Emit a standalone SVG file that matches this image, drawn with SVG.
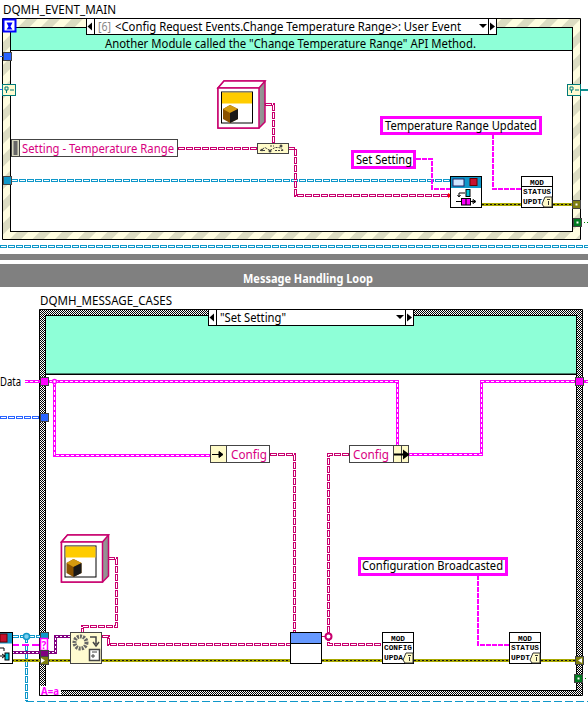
<svg xmlns="http://www.w3.org/2000/svg" width="588" height="702" viewBox="0 0 588 702">
<style>
text{font-family:"Noto Sans","Open Sans","Liberation Sans",sans-serif;font-size:12px;fill:#000}
.frame{stroke:#000;stroke-width:1}
.box{fill:#fff;stroke:#000;stroke-width:1}
.band{fill:#8effd7;stroke:#000;stroke-width:1}
.w{fill:none;shape-rendering:crispEdges}
.w3{stroke-width:3;stroke-dasharray:7 1}
.w1{stroke-width:1}
.h{stroke:#fff;stroke-width:1;stroke-dasharray:5 3;stroke-dashoffset:-1}
.cp{stroke:#c8006e}
.ct{stroke:#0f97c9}
.cb{stroke:#2a64ff}
.pw{stroke:#ff00ff;stroke-width:3}
.pi{stroke:#fff;stroke-width:1;stroke-dasharray:3 2}
.pt{stroke:#ff00ff;stroke-width:2;stroke-dasharray:5 1}
.yo{stroke:#a8a800;stroke-width:3}
.yi{stroke:#111;stroke-width:1;stroke-dasharray:2 2}
.lab{fill:#fff;stroke:#ff00ff;stroke-width:3}
.cl{fill:#d8007f}
.m{font-family:"Liberation Mono",monospace;font-size:8px;font-weight:bold}
.term{stroke:#444;stroke-width:1}
</style>
<defs>
<pattern id="stripe" width="16" height="16" patternUnits="userSpaceOnUse" patternTransform="rotate(-45)">
<rect width="16" height="16" fill="#fffde0"/><rect width="16" height="8" fill="#dcdcc2"/>
</pattern>
<pattern id="check" width="2" height="2" patternUnits="userSpaceOnUse">
<rect width="2" height="2" fill="#fff"/><rect width="1" height="1" fill="#000"/><rect x="1" y="1" width="1" height="1" fill="#000"/>
</pattern>
<linearGradient id="side" x1="0" x2="1" y1="0" y2="0"><stop offset="0" stop-color="#f4f4f4"/><stop offset="1" stop-color="#8c8c8c"/></linearGradient>
<g id="classIcon">
<path d="M0 0L6 -7H47V34L41 40H0Z" fill="url(#side)" stroke="#c8006e" stroke-width="1.5"/>
<path d="M0 0L6 -7H47L41 0Z" fill="#fff" stroke="#c8006e" stroke-width="1.5"/>
<rect x="0" y="0" width="41" height="40" fill="#fff" stroke="#c8006e" stroke-width="1.5"/>
<rect x="3.500" y="4" width="31" height="31" fill="#fff" stroke="#000"/>
<rect x="4" y="4.500" width="30" height="11" fill="#ffcc00"/>
<path d="M5 21L12 17L20 21V31L12 35L5 31Z" fill="#8a5200"/>
<path d="M5 21L12 17L20 21L12 25Z" fill="#d49a10"/>
<path d="M12 25L20 21V31L12 35Z" fill="#181818"/>
</g>
<g id="modIcon">
<rect x="0.500" y="0.500" width="31" height="31" class="box"/>
<path d="M1 10.500H31" stroke="#000"/>
<text class="m" x="9" y="8.500" textLength="14" lengthAdjust="spacingAndGlyphs">MOD</text>
<path d="M21 28L24 21H31V31H23Z" fill="#fffbc8" stroke="#333"/>
<path d="M26 23.500h3M27.500 25v4" stroke="#333"/>
</g>
</defs>
<rect width="588" height="702" fill="#fff"/>

<g id="background-bars">
<rect x="0" y="254" width="588" height="6" fill="#808080"/>
<rect x="0" y="264" width="588" height="23" fill="#808080"/>
<text x="243" y="283" font-weight="bold" style="fill:#fff" textLength="130" lengthAdjust="spacingAndGlyphs">Message Handling Loop</text>
</g>

<g id="event-structure">
<text x="3" y="14" textLength="113" lengthAdjust="spacingAndGlyphs">DQMH_EVENT_MAIN</text>
<path class="frame" d="M2.500 18.500H580.500V239.500H2.500ZM10.500 27.500V231.500H572.500V27.500Z" fill="url(#stripe)" fill-rule="evenodd"/>
<rect x="10.500" y="27.500" width="562" height="23" class="band"/>
<rect x="10.500" y="50.500" width="562" height="181" fill="#fff" stroke="#000"/>
<rect x="86.500" y="18.500" width="410" height="16" class="box"/>
<path d="M94.500 18.500V34.500M488.500 18.500V34.500" stroke="#000"/>
<path d="M92 22.500V30.500L87.500 26.500Z" fill="#000"/>
<path d="M490 22.500V30.500L495 26.500Z" fill="#000"/>
<path d="M479 24H487L483 28Z" fill="#000"/>
<text x="98" y="31" style="fill:#888" textLength="13" lengthAdjust="spacingAndGlyphs">[6]</text>
<text x="115" y="31" textLength="346" lengthAdjust="spacingAndGlyphs">&lt;Config Request Events.Change Temperature Range&gt;: User Event</text>
<text x="105" y="47.500" textLength="371" lengthAdjust="spacingAndGlyphs">Another Module called the "Change Temperature Range" API Method.</text>
<rect x="3.500" y="19.500" width="12" height="12" fill="#fff" stroke="#0000ff" stroke-width="2"/>
<path d="M6.500 22.500h6l-2 4 2 3h-6l2 -3z" fill="#0000ff"/>
</g>

<g id="case-structure">
<text x="40" y="305" textLength="132" lengthAdjust="spacingAndGlyphs">DQMH_MESSAGE_CASES</text>
<path class="frame" d="M39.500 309.500H582.500V695.500H39.500ZM45.500 315.500V690.500H576.500V315.500Z" fill="url(#check)" fill-rule="evenodd"/>
<rect x="45.500" y="315.500" width="531" height="58.500" class="band"/>
<rect x="45.500" y="374.500" width="531" height="316" fill="#fff" stroke="#000"/>
<rect x="208.500" y="309.500" width="205" height="16" class="box"/>
<path d="M216.500 309.500V325.500M405.500 309.500V325.500" stroke="#000"/>
<path d="M214 313.500V321.500L209.500 317.500Z" fill="#000"/>
<path d="M407 313.500V321.500L412 317.500Z" fill="#000"/>
<path d="M396 315H404L400 319Z" fill="#000"/>
<text x="220" y="322" textLength="66" lengthAdjust="spacingAndGlyphs">"Set Setting"</text>
<rect x="40" y="686" width="21" height="9" fill="#fff"/>
<text x="41" y="694.500" font-weight="bold" style="fill:#ff00ff;font-size:11px" textLength="18" lengthAdjust="spacingAndGlyphs">A=a</text>
</g>

<g id="connectors">
<path class="w ct w3" d="M11 180.500H450M0 246.500H588M12 636.500H40M26.500 636V701"/>
<path class="w h" d="M11 180.500H450M0 246.500H588M12 636.500H40M26.500 636V701"/>
<path class="w" d="M26 701.500H588" stroke="#0f97c9" stroke-width="1.500" stroke-dasharray="8 3"/>
<path class="w cb w3" d="M0 417.500H40"/>
<path class="w cb w1" d="M0 56.500H3M0 89.500H3"/>
<path class="w h" d="M0 417.500H40"/>
<path class="w" d="M581 89.500H588" stroke="#0f8f8f" stroke-width="2"/>

<path class="w cp w3" d="M265 104.500H273.500V143M178 148.500H257M288 148.500H295.500V195.500H450M270 454.500H294.500V632M349 454.500H328.500V644.500H382M102 636.500H108.500V644.500H290M108 558.500H116.500V626.500H82.500V632"/>
<path class="w cp w1" d="M322 636.500H328"/>
<path class="w h" d="M265 104.500H273.500V143M178 148.500H257M288 148.500H295.500V195.500H450M270 454.500H294.500V632M349 454.500H328.500V644.500H382M102 636.500H108.500V644.500H290M108 558.500H116.500V626.500H82.500V632"/>
<path d="M448 193L452 195.500L448 198Z" fill="#ff0000"/>
<circle cx="328.500" cy="636.500" r="3" fill="#fff" stroke="#c8006e" stroke-width="2"/>

<path class="w pw" d="M25 381.500H397.500V445M54.500 381.500V455.500H210M409 454.500H481.500V381.500H588"/>
<path class="w pi" d="M25 381.500H397.500V445M54.500 381.500V455.500H210M409 454.500H481.500V381.500H588"/>
<circle cx="54.500" cy="381.500" r="2" fill="#fff" stroke="#ff00ff" stroke-width="1.500"/>
<path class="w pt" d="M416 158.500H431.500V188.500H450M492.500 134V188.500H521M477.500 575V644.500H509"/>
<path class="w" d="M12 644.500H40" stroke="#ff00ff" stroke-width="2" stroke-dasharray="7 3"/>

<path class="w" d="M12 652.500H55.500V636.500H70" stroke="#800080" stroke-width="3"/>
<path class="w" d="M12 652.500H55.500V636.500H70" stroke="#fff" stroke-width="1" stroke-dasharray="2 2"/>

<path class="w yo" d="M482 204.500H521M553 204.500H572M12 660.500H70M102 660.500H290M322 660.500H382M414 660.500H509M541 660.500H575"/>
<path class="w yi" d="M482 204.500H521M553 204.500H572M12 660.500H70M102 660.500H290M322 660.500H382M414 660.500H509M541 660.500H575"/>
<path class="w" d="M581 222.500H588M582 678.500H588" stroke="#008000" stroke-dasharray="1 2"/>
</g>

<g id="terminals">
<rect x="3.500" y="52.500" width="8" height="8" fill="#2a64ff" class="term"/>
<rect x="3.500" y="176.500" width="8" height="8" fill="#0f97c9" class="term"/>
<rect x="572.500" y="200.500" width="8" height="8" fill="#7f7f10" class="term"/>
<rect x="575.500" y="203.500" width="2" height="2" fill="#fff"/>
<rect x="573.500" y="218.500" width="8" height="8" fill="#007a20" class="term"/>
<rect x="576.500" y="221.500" width="2" height="2" fill="#fff"/>
<rect x="40.500" y="377.500" width="8" height="8" fill="#ff00ff" class="term"/>
<rect x="575.500" y="377.500" width="8" height="8" fill="#ff00ff" class="term"/>
<rect x="40.500" y="413.500" width="8" height="8" fill="#2a64ff" class="term"/>
<rect x="40.500" y="632.500" width="8" height="6" fill="#0f97c9" class="term"/>
<rect x="40.500" y="638.500" width="7" height="12" fill="#fff" stroke="#ff00ff" stroke-width="1.500"/>
<text x="44" y="649" text-anchor="middle" font-weight="bold" style="fill:#ff00ff;font-size:10px">?</text>
<rect x="40.500" y="650.500" width="8" height="6" fill="#800080" class="term"/>
<rect x="40.500" y="656.500" width="8" height="8" fill="#7f7f10" class="term"/>
<path d="M41 658L45 660.500L41 663Z" fill="#fff"/>
<rect x="575.500" y="656.500" width="8" height="8" fill="#7f7f10" class="term"/>
<path d="M582 658L578 660.500L582 663Z" fill="#fff"/>
<rect x="574.500" y="674.500" width="8" height="8" fill="#007a20" class="term"/>
<rect x="577.500" y="677.500" width="2" height="2" fill="#fff"/>
</g>

<g id="reg-left-top"><rect x="2.500" y="84.500" width="13" height="11" fill="#fffbd0" stroke="#007a7a"/><path d="M5 87h3v3h-3zM6.500 90v3M10 90h4" stroke="#007a7a" fill="none"/></g>
<g id="reg-right-top"><rect x="567.500" y="84.500" width="13" height="11" fill="#fffbd0" stroke="#007a7a"/><path d="M570 87h3v3h-3zM571.500 90v3M575 90h4" stroke="#007a7a" fill="none"/></g>

<g id="class-top"><use href="#classIcon" x="218" y="88"/></g>
<g id="class-bottom"><use href="#classIcon" x="61.500" y="542"/></g>

<g id="setting-constant">
<rect x="11.500" y="139.500" width="166" height="17" fill="#fff" stroke="#444"/>
<rect x="11.500" y="139.500" width="8" height="17" fill="#d8d8c0" stroke="#444"/>
<rect x="13.500" y="141" width="4" height="14" fill="#666"/>
<text class="cl" x="22" y="153" textLength="152" lengthAdjust="spacingAndGlyphs">Setting - Temperature Range</text>
</g>

<g id="bundle-node">
<rect x="257.500" y="143.500" width="31" height="10" fill="#fffbc8" stroke="#444"/>
<path d="M260 150.500l5 -3 5 3 5 -3 4 0 5 3M260 150.500h5M275 150.500h9M270 146h4" stroke="#444" fill="none" stroke-dasharray="2 1"/>
<circle cx="270" cy="151" r="1.500" fill="#444"/><circle cx="281" cy="146" r="1.500" fill="#444"/><circle cx="262" cy="150" r="1.200" fill="#444"/>
</g>

<g id="send-node">
<rect x="450.500" y="176.500" width="31" height="31" class="box"/>
<rect x="451" y="177" width="30" height="11" fill="#0f97c9"/>
<rect x="453" y="179" width="11" height="7" fill="#cfe6ff" stroke="#226"/>
<rect x="470" y="178.500" width="7" height="7" fill="#c8102e" stroke="#600"/>
<rect x="461.500" y="198.500" width="9" height="6.500" fill="#ff00ff" stroke="#000"/>
<path d="M466 198.500V205M456 201.500H461M470 201.500H475M473 199.500L476 201.500L473 203.500Z" stroke="#000" fill="none"/>
<rect x="466" y="189.500" width="4" height="7" fill="#00c8dc" stroke="#000"/>
<path d="M465 193H459V196M457.500 195L459 197L460.500 195" stroke="#000" fill="none"/>
</g>

<g id="mod-status-top"><use href="#modIcon" x="521" y="176"/><text class="m" x="523" y="194" textLength="28" lengthAdjust="spacingAndGlyphs">STATUS</text><text class="m" x="523" y="204" textLength="19" lengthAdjust="spacingAndGlyphs">UPDT</text></g>
<g id="mod-config"><use href="#modIcon" x="382" y="632"/><text class="m" x="384" y="650" textLength="28" lengthAdjust="spacingAndGlyphs">CONFIG</text><text class="m" x="384" y="660" textLength="19" lengthAdjust="spacingAndGlyphs">UPDA</text></g>
<g id="mod-status-bottom"><use href="#modIcon" x="509" y="632"/><text class="m" x="511" y="650" textLength="28" lengthAdjust="spacingAndGlyphs">STATUS</text><text class="m" x="511" y="660" textLength="19" lengthAdjust="spacingAndGlyphs">UPDT</text></g>

<g id="label-set-setting"><rect x="352.500" y="151.500" width="62" height="16" class="lab"/><text x="356" y="164" textLength="56" lengthAdjust="spacingAndGlyphs">Set Setting</text></g>
<g id="label-temp-updated"><rect x="381.500" y="117.500" width="159" height="16" class="lab"/><text x="385" y="130" textLength="152" lengthAdjust="spacingAndGlyphs">Temperature Range Updated</text></g>
<g id="label-config-broadcast"><rect x="359.500" y="558.500" width="147" height="16" class="lab"/><text x="362" y="570" textLength="141" lengthAdjust="spacingAndGlyphs">Configuration Broadcasted</text></g>

<g id="data-label"><text x="0" y="386" textLength="21" lengthAdjust="spacingAndGlyphs">Data</text></g>

<g id="config-write">
<rect x="210.500" y="445.500" width="59" height="17" fill="#fff" stroke="#444"/>
<rect x="210.500" y="445.500" width="16" height="17" fill="#fffbc8" stroke="#444"/>
<path d="M212 454.500H222M219 451.500L223 454.500L219 457.500Z" stroke="#000" fill="#000"/>
<text class="cl" x="231" y="459" textLength="36" lengthAdjust="spacingAndGlyphs">Config</text>
</g>
<g id="config-read">
<rect x="349.500" y="445.500" width="59" height="17" fill="#fff" stroke="#444"/>
<rect x="393.500" y="445.500" width="8" height="17" fill="#fffbc8" stroke="#444"/>
<rect x="401.500" y="445.500" width="7" height="17" fill="#fffbc8" stroke="#444"/>
<path d="M394 454.500H407M404 451.500L408 454.500L404 457.500Z" stroke="#000" stroke-width="2" fill="#000"/>
<text class="cl" x="353" y="459" textLength="36" lengthAdjust="spacingAndGlyphs">Config</text>
</g>

<g id="context-node">
<rect x="70.500" y="632.500" width="31" height="31" fill="#fffbd0" stroke="#444"/>
<circle cx="80.500" cy="642.500" r="6" fill="none" stroke="#666" stroke-width="4" stroke-dasharray="2 1"/>
<path d="M90 637H96V644M93 642L96 646L99 642" fill="none" stroke="#444" stroke-width="1.500"/>
<rect x="89.500" y="649.500" width="10" height="11" fill="#fff" stroke="#444" stroke-width="1.500"/>
<path d="M92 652h5M92 655h2v2h-2z" stroke="#444" fill="none"/>
</g>

<g id="inplace-node">
<rect x="290.500" y="632.500" width="31" height="31" class="box"/>
<rect x="291" y="633" width="30" height="10.500" fill="#6699ff"/>
<path d="M291 643.500H321" stroke="#000"/>
</g>

<g id="cropped-left-node">
<rect x="-2" y="632.500" width="14.500" height="31" class="box"/>
<rect x="-2" y="633" width="14" height="10.500" fill="#0f97c9"/>
<rect x="0" y="634" width="7" height="8" fill="#c8102e" stroke="#600"/>
<path d="M0 648H4V651M0 656H4M2 654L5 656L2 658" stroke="#000" fill="none"/>
<rect x="5" y="653" width="4" height="7" fill="#00c8dc" stroke="#000"/>
</g>

<circle id="teal-junction" cx="26.500" cy="636.500" r="3" fill="#7fd0ee" stroke="#0f97c9" stroke-width="1.500"/>
</svg>
